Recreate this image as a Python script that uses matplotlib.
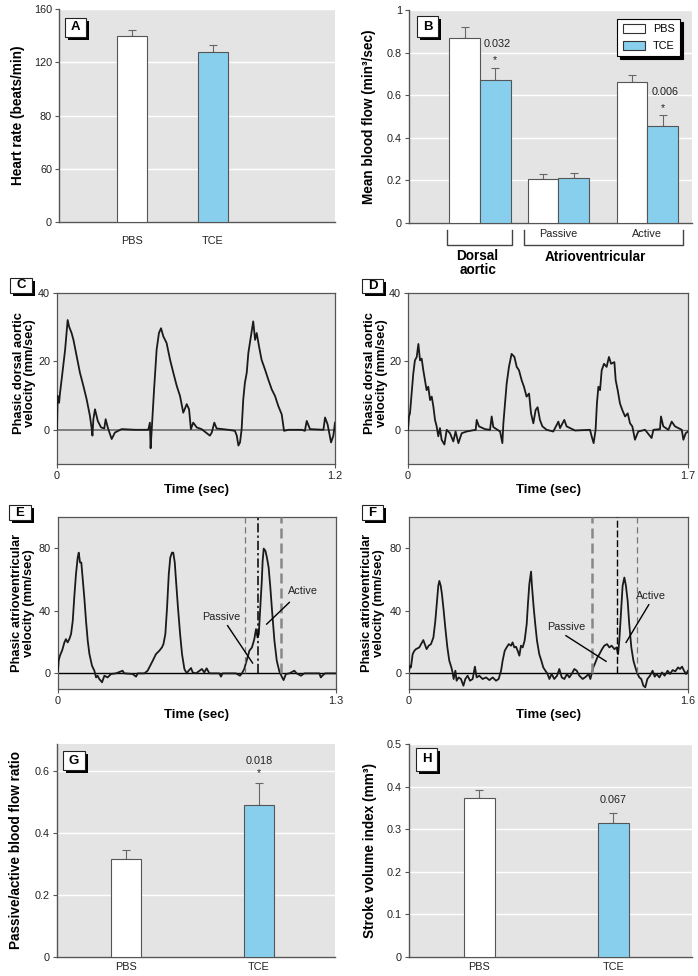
import matplotlib
matplotlib.use('Agg')
import matplotlib.pyplot as plt
import matplotlib.transforms as mtrans
from matplotlib.patches import Rectangle, Patch

plt.rcParams['font.family'] = ['Liberation Sans', 'DejaVu Sans']

# ---------------- data ----------------
groups = ['PBS', 'TCE']
hr_mean = [140, 128]
hr_err = [4, 5]
hr_ticks = [0, 40, 80, 120, 160]
hr_tick_labels = ['0', '60', '80', '120', '160']

flow_cats = ['Dorsal\naortic', 'Passive', 'Active']
flow_pbs = [0.867, 0.204, 0.660]
flow_pbs_err = [0.051, 0.024, 0.033]
flow_tce = [0.669, 0.209, 0.455]
flow_tce_err = [0.060, 0.023, 0.050]
flow_p = ['0.032', '', '0.006']
flow_ticks = [0, 0.2, 0.4, 0.6, 0.8, 1.0]
flow_tick_labels = ['0', '0.2', '0.4', '0.6', '0.8', '1']

ratio_mean = [0.314, 0.488]
ratio_err = [0.029, 0.071]
ratio_p = '0.018'
ratio_ticks = [0, 0.2, 0.4, 0.6]
ratio_tick_labels = ['0', '0.2', '0.4', '0.6']

sv_mean = [0.373, 0.314]
sv_err = [0.019, 0.025]
sv_p = '0.067'
sv_ticks = [0, 0.1, 0.2, 0.3, 0.4, 0.5]
sv_tick_labels = ['0', '0.1', '0.2', '0.3', '0.4', '0.5']

# Panel C: phasic dorsal aortic velocity, PBS (mm/sec)
c_t = [0.000, 0.003, 0.009, 0.013, 0.020, 0.035, 0.046, 0.052, 0.063, 0.071, 0.085, 0.099,
       0.114, 0.128, 0.142, 0.150, 0.153, 0.157, 0.164, 0.176, 0.190, 0.204, 0.210, 0.219,
       0.236, 0.250, 0.279, 0.337, 0.394, 0.401, 0.404, 0.409, 0.419, 0.430, 0.440, 0.449,
       0.459, 0.473, 0.488, 0.502, 0.517, 0.531, 0.545, 0.560, 0.570, 0.578, 0.588, 0.603,
       0.624, 0.660, 0.668, 0.679, 0.689, 0.740, 0.768, 0.776, 0.783, 0.790, 0.797, 0.804,
       0.811, 0.819, 0.826, 0.837, 0.847, 0.855, 0.862, 0.872, 0.883, 0.898, 0.912, 0.927,
       0.941, 0.955, 0.970, 0.980, 0.999, 1.056, 1.070, 1.078, 1.092, 1.150, 1.157, 1.168,
       1.183, 1.193, 1.200]
c_v = [0.2, 9.9, 7.9, 10.8, 14.7, 23.4, 32.1, 30.2, 28.3, 26.3, 21.5, 16.7,
       12.8, 8.9, 4.1, 0.2, -1.7, 3.1, 6.0, 2.6, 0.7, 0.4, 3.1, 0.7,
       -2.7, -0.8, 0.2, 0.0, 0.0, 2.1, -5.4, 0.2, 11.8, 23.4, 28.3, 29.7,
       27.3, 25.4, 20.5, 16.7, 12.8, 9.9, 5.0, 7.5, 6.0, 0.2, 2.1, 0.7,
       0.2, -1.7, -0.8, 2.1, 0.4, 0.0, -0.3, -1.7, -4.6, -3.7, 0.2, 8.9,
       13.7, 16.7, 22.5, 27.3, 31.7, 26.3, 28.3, 24.4, 20.5, 17.6, 14.7, 11.8,
       9.9, 7.0, 4.5, -0.3, 0.0, 0.0, -0.3, 2.6, 0.2, 0.0, 3.6, 1.6,
       -3.7, -1.7, 2.1]

# Panel D: phasic dorsal aortic velocity, TCE (mm/sec)
d_t = [0.000, 0.006, 0.012, 0.022, 0.032, 0.042, 0.053, 0.063, 0.073, 0.083, 0.093, 0.103,
       0.113, 0.123, 0.134, 0.144, 0.154, 0.164, 0.174, 0.184, 0.194, 0.204, 0.221, 0.235,
       0.255, 0.275, 0.289, 0.306, 0.326, 0.356, 0.387, 0.411, 0.417, 0.431, 0.467, 0.498,
       0.508, 0.518, 0.559, 0.573, 0.579, 0.589, 0.599, 0.613, 0.629, 0.646, 0.660, 0.674,
       0.690, 0.704, 0.720, 0.735, 0.747, 0.761, 0.775, 0.787, 0.801, 0.816, 0.842, 0.882,
       0.913, 0.923, 0.949, 0.963, 1.014, 1.105, 1.115, 1.127, 1.139, 1.147, 1.156, 1.166,
       1.176, 1.190, 1.206, 1.220, 1.233, 1.253, 1.261, 1.273, 1.287, 1.301, 1.318, 1.334,
       1.348, 1.362, 1.378, 1.398, 1.439, 1.479, 1.490, 1.530, 1.536, 1.550, 1.581, 1.601,
       1.621, 1.662, 1.672, 1.686, 1.700]
d_v = [0.0, 3.9, 4.8, 10.6, 16.4, 20.3, 21.3, 25.1, 20.3, 20.8, 17.4, 14.5,
       11.6, 12.6, 8.7, 9.7, 6.8, 2.9, 1.0, -1.9, 0.5, -2.9, -4.3, 0.0,
       -1.0, -3.4, -0.5, -3.9, -1.0, -0.5, -0.2, 0.0, 2.9, 1.0, 0.2, 0.0,
       3.9, 0.8, -0.5, -3.9, 1.9, 7.7, 13.5, 18.4, 22.2, 21.3, 18.4, 17.4,
       14.5, 12.6, 9.7, 10.6, 4.8, 1.9, 5.8, 6.6, 2.9, 1.0, 0.0, -0.5,
       2.4, 0.5, 2.9, 1.0, -0.2, 0.0, -1.9, -3.9, 0.0, 7.7, 12.6, 11.6,
       17.4, 19.3, 18.4, 21.3, 19.3, 19.8, 14.5, 11.6, 7.7, 5.8, 3.9, 4.8,
       1.9, 1.0, -2.9, -0.5, 0.0, -2.4, 0.0, 0.2, 3.9, 1.0, 0.0, 2.4,
       1.0, 0.0, -2.9, -1.0, -0.5]

# Panel E: phasic atrioventricular velocity, PBS (mm/sec)
e_t = [0.000, 0.003, 0.009, 0.019, 0.030, 0.037, 0.045, 0.053, 0.061, 0.069, 0.076, 0.084,
       0.092, 0.097, 0.103, 0.109, 0.115, 0.123, 0.131, 0.139, 0.147, 0.159, 0.170, 0.178,
       0.185, 0.193, 0.206, 0.217, 0.232, 0.248, 0.271, 0.302, 0.310, 0.349, 0.365, 0.373,
       0.404, 0.419, 0.427, 0.443, 0.458, 0.474, 0.486, 0.493, 0.502, 0.510, 0.518, 0.525,
       0.533, 0.539, 0.546, 0.552, 0.561, 0.571, 0.580, 0.591, 0.602, 0.611, 0.622, 0.630,
       0.645, 0.673, 0.684, 0.695, 0.708, 0.754, 0.762, 0.770, 0.832, 0.851, 0.860, 0.871,
       0.882, 0.895, 0.907, 0.918, 0.926, 0.933, 0.939, 0.945, 0.953, 0.957, 0.962, 0.970,
       0.977, 0.985, 0.993, 1.001, 1.012, 1.023, 1.035, 1.048, 1.055, 1.066, 1.082, 1.105,
       1.116, 1.136, 1.152, 1.222, 1.229, 1.236, 1.249, 1.300]
e_v = [1.7, 8.1, 11.3, 14.5, 19.8, 21.9, 19.8, 21.9, 25.1, 33.6, 48.5, 63.4,
       74.0, 77.2, 70.9, 70.9, 61.3, 48.5, 33.6, 20.9, 12.3, 4.9, 1.7, -2.6,
       -1.5, -3.6, -5.7, -1.5, -2.6, -0.4, 0.0, 1.7, 0.0, -0.4, -2.1, 0.0,
       0.0, 1.7, 3.8, 8.1, 12.3, 14.5, 16.6, 18.7, 25.1, 42.1, 63.4, 74.0,
       77.2, 77.2, 70.9, 59.1, 42.1, 25.1, 12.3, 2.8, 0.0, 1.7, 3.4, 0.6,
       0.0, 2.8, 0.6, 3.2, 0.0, 0.0, -2.1, 0.0, 0.0, -1.5, 0.0, 2.8,
       8.1, 14.5, 16.6, 21.9, 28.3, 23.0, 25.1, 40.0, 59.1, 71.9, 79.8, 78.3,
       74.0, 67.7, 54.9, 40.0, 20.9, 8.1, 1.3, -2.6, -4.3, -0.4, 0.0, 1.7,
       0.0, -1.5, 0.0, 0.0, -2.6, -1.5, 0.0, 0.0]
e_marks = [0.873, 0.937, 1.043]

# Panel F: phasic atrioventricular velocity, TCE (mm/sec)
f_t = [0.000, 0.006, 0.011, 0.021, 0.031, 0.040, 0.059, 0.075, 0.082, 0.094, 0.101, 0.113,
       0.126, 0.140, 0.151, 0.161, 0.168, 0.174, 0.182, 0.189, 0.199, 0.208, 0.220, 0.231,
       0.243, 0.250, 0.256, 0.266, 0.273, 0.285, 0.298, 0.312, 0.323, 0.336, 0.350, 0.365,
       0.378, 0.388, 0.403, 0.422, 0.442, 0.461, 0.480, 0.499, 0.514, 0.528, 0.537, 0.549,
       0.560, 0.572, 0.585, 0.594, 0.604, 0.614, 0.623, 0.633, 0.642, 0.652, 0.663, 0.675,
       0.682, 0.690, 0.700, 0.705, 0.715, 0.724, 0.734, 0.747, 0.759, 0.770, 0.782, 0.793,
       0.805, 0.818, 0.833, 0.849, 0.862, 0.876, 0.891, 0.906, 0.919, 0.933, 0.948, 0.962,
       0.977, 0.996, 1.015, 1.030, 1.040, 1.048, 1.057, 1.069, 1.080, 1.092, 1.107, 1.120,
       1.136, 1.149, 1.162, 1.178, 1.191, 1.199, 1.206, 1.216, 1.225, 1.235, 1.244, 1.254,
       1.263, 1.275, 1.287, 1.298, 1.309, 1.321, 1.332, 1.344, 1.355, 1.367, 1.382, 1.397,
       1.409, 1.420, 1.436, 1.451, 1.466, 1.483, 1.497, 1.512, 1.527, 1.543, 1.554, 1.566,
       1.577, 1.589, 1.600]
f_v = [1.7, 4.9, 3.8, 12.3, 14.5, 15.5, 16.6, 19.8, 21.3, 17.7, 15.5, 17.7,
       18.7, 23.0, 33.6, 46.4, 56.0, 59.1, 56.0, 50.6, 40.0, 29.4, 16.6, 8.1,
       3.8, 0.6, -3.6, 1.7, -4.7, -2.6, -3.6, -7.9, -3.6, -1.5, -4.7, -3.6,
       4.3, -2.6, -1.5, -3.6, -2.6, -4.3, -2.6, -4.7, -3.6, 1.7, 8.1, 14.5,
       16.6, 18.7, 17.7, 19.8, 16.6, 17.0, 14.5, 11.3, 17.7, 16.6, 20.9, 31.5,
       44.3, 57.0, 65.1, 56.0, 42.1, 31.5, 20.9, 12.3, 8.1, 3.8, 1.7, 0.0,
       -3.6, -0.4, -3.6, -1.5, 2.8, -2.6, -3.6, -0.4, -2.6, -0.4, 2.8, 1.7,
       -1.5, -3.6, -2.1, -0.4, -3.6, 0.0, 3.8, 7.0, 10.2, 12.3, 15.5, 17.7,
       18.7, 16.6, 17.7, 15.5, 16.6, 12.3, 20.9, 40.0, 56.0, 61.3, 56.0, 46.4,
       31.5, 16.6, 8.1, 3.8, 0.0, -2.6, -3.6, -7.9, -8.9, -3.6, -1.5, 1.7,
       -2.1, -0.4, -2.6, 0.6, -1.5, 1.7, -0.4, 2.1, 1.3, 3.8, 2.8, 4.3,
       1.7, -0.4, 1.7]
f_marks = [1.048, 1.195, 1.309]

# ---------------- style ----------------
W, H = 698, 976
BG = '#e4e4e4'
BLUE = '#88cfee'
EDGE = '#555555'
TXT = '#222222'
FS_SMALL = 7.8
FS_TICK = 7.8
FS_YLAB = 9.8
FS_YLAB2 = 9.3
FS_XLAB = 9.5

fig = plt.figure(figsize=(W / 100, H / 100), dpi=100)
fig.patch.set_facecolor('white')


def axes_px(x0, y0, x1, y1):
    return fig.add_axes([x0 / W, 1 - y1 / H, (x1 - x0) / W, (y1 - y0) / H])


def letter(txt, x0, y0, x1, y1):
    sh = 3
    fig.add_artist(Rectangle(((x0 + sh) / W, 1 - (y1 + sh) / H), (x1 - x0) / W, (y1 - y0) / H,
                             transform=fig.transFigure, facecolor='black', edgecolor='none', zorder=10))
    fig.add_artist(Rectangle((x0 / W, 1 - y1 / H), (x1 - x0) / W, (y1 - y0) / H,
                             transform=fig.transFigure, facecolor='white', edgecolor='#222222',
                             linewidth=0.8, zorder=11))
    fig.text((x0 + x1) / 2 / W, 1 - (y0 + y1) / 2 / H, txt, ha='center', va='center',
             fontsize=9.5, fontweight='bold', zorder=12)


def style_bar_ax(ax):
    ax.set_facecolor(BG)
    for s in ['top', 'right']:
        ax.spines[s].set_visible(False)
    for s in ['left', 'bottom']:
        ax.spines[s].set_color(EDGE)
        ax.spines[s].set_linewidth(1.0)
    ax.yaxis.grid(True, color='white', lw=1.0)
    ax.set_axisbelow(True)
    ax.tick_params(axis='x', length=0, labelsize=FS_SMALL, colors=TXT)
    ax.tick_params(axis='y', length=3, color=EDGE, labelsize=FS_TICK, labelcolor=TXT, pad=2)


def draw_bars(ax, pos, vals, errs, colors, width):
    ax.errorbar(pos, vals, yerr=[[0] * len(vals), errs], fmt='none', ecolor='#666666',
                elinewidth=0.8, capsize=3, capthick=0.8, zorder=2)
    ax.bar(pos, vals, width, color=colors, edgecolor=EDGE, linewidth=0.8, zorder=3)


def trace_ax(ax, t, v, xmax, xlabels, ylim, yticks, zcolor, zlw):
    ax.set_facecolor(BG)
    ax.axhline(0, color=zcolor, lw=zlw, zorder=2)
    ax.plot(t, v, color='#1a1a1a', lw=1.3, zorder=3)
    ax.set_xlim(0, xmax)
    ax.set_ylim(*ylim)
    ax.set_xticks([0, xmax])
    ax.set_xticklabels(xlabels)
    ax.set_yticks(yticks)
    for s in ax.spines.values():
        s.set_color(EDGE)
        s.set_linewidth(0.9)
    ax.tick_params(labelsize=FS_TICK, length=3, color=EDGE, pad=2, labelcolor=TXT)
    ax.set_xlabel('Time (sec)', fontsize=FS_XLAB, fontweight='bold', labelpad=2)


# ---------------- A ----------------
axA = axes_px(59, 9, 335, 222)
style_bar_ax(axA)
draw_bars(axA, [0, 1], hr_mean, hr_err, ['white', BLUE], 0.37)
axA.set_xlim(-0.90, 2.506)
axA.set_ylim(0, 160)
axA.set_yticks(hr_ticks)
axA.set_yticklabels(hr_tick_labels)
axA.set_xticks([0, 1])
axA.set_xticklabels(groups)
axA.tick_params(axis='x', pad=10)
axA.set_ylabel('Heart rate (beats/min)', fontsize=FS_YLAB, fontweight='bold')
axA.yaxis.set_label_coords(-0.123, 0.5)
letter('A', 65, 18, 86, 37)

# ---------------- B ----------------
axB = axes_px(409, 10, 692, 222.7)
style_bar_ax(axB)
gpos = [0, 1, 2.137]
bw = 0.39
draw_bars(axB, [p - bw / 2 for p in gpos], flow_pbs, flow_pbs_err, 'white', bw)
draw_bars(axB, [p + bw / 2 for p in gpos], flow_tce, flow_tce_err, BLUE, bw)
axB.set_xlim(-0.907, 2.708)
axB.set_ylim(0, 1)
axB.set_yticks(flow_ticks)
axB.set_yticklabels(flow_tick_labels)
axB.set_xticks([])
axB.set_ylabel('Mean blood flow (min³/sec)', fontsize=FS_YLAB, fontweight='bold')
axB.yaxis.set_label_coords(-0.118, 0.5)
for i, p in enumerate(flow_p):
    if p:
        top = flow_tce[i] + flow_tce_err[i]
        axB.text(gpos[i] + bw / 2 + 0.03, top + 0.11, p, ha='center', va='center',
                 fontsize=FS_SMALL, color=TXT)
        axB.text(gpos[i] + bw / 2, top + 0.035, '*', ha='center', va='center',
                 fontsize=FS_SMALL, color=TXT)
tr = mtrans.blended_transform_factory(axB.transData, axB.transAxes)
for x0, x1 in [(-0.42, 0.41), (0.562, 2.59)]:
    axB.plot([x0, x0, x1, x1], [-0.034, -0.105, -0.105, -0.034], transform=tr, clip_on=False,
             color='#444444', lw=1.0)
axB.text(gpos[1], -0.052, flow_cats[1], transform=tr, ha='center', va='center',
         fontsize=FS_SMALL, color=TXT)
axB.text(gpos[2], -0.052, flow_cats[2], transform=tr, ha='center', va='center',
         fontsize=FS_SMALL, color=TXT)
axB.text(-0.03, -0.19, flow_cats[0], transform=tr, ha='center', va='center', fontsize=9.8,
         fontweight='bold', linespacing=0.95)
axB.text(1.47, -0.16, 'Atrioventricular', transform=tr, ha='center', va='center', fontsize=9.8,
         fontweight='bold')
handles = [Patch(facecolor='white', edgecolor='#333333', lw=0.8, label=groups[0]),
           Patch(facecolor=BLUE, edgecolor='#333333', lw=0.8, label=groups[1])]
leg = axB.legend(handles=handles, loc='upper right', bbox_to_anchor=(0.958, 0.958), frameon=True,
                 fancybox=False, edgecolor='black', framealpha=1,
                 shadow={'facecolor': 'black', 'edgecolor': 'black', 'alpha': 1},
                 fontsize=FS_SMALL, handlelength=2.1, handleheight=0.85, borderpad=0.5,
                 labelspacing=0.6, handletextpad=0.7, borderaxespad=0)
leg.get_frame().set_linewidth(0.8)
letter('B', 417, 16, 438, 37)

# ---------------- C ----------------
axC = axes_px(57, 293, 335, 464)
trace_ax(axC, c_t, c_v, 1.2, ['0', '1.2'], (-10, 40), [0, 20, 40], '#777777', 1.3)
axC.set_ylabel('Phasic dorsal aortic\nvelocity (mm/sec)', fontsize=FS_YLAB2, fontweight='bold',
               linespacing=0.95)
axC.yaxis.set_label_coords(-0.074, 0.53)
letter('C', 10, 278, 32, 293)

# ---------------- D ----------------
axD = axes_px(408, 293, 688, 464)
trace_ax(axD, d_t, d_v, 1.7, ['0', '1.7'], (-10, 40), [0, 20, 40], '#666666', 0.9)
axD.set_ylabel('Phasic dorsal aortic\nvelocity (mm/sec)', fontsize=FS_YLAB2, fontweight='bold',
               linespacing=0.95)
axD.yaxis.set_label_coords(-0.073, 0.53)
letter('D', 362, 279, 383, 293)

# ---------------- E ----------------
axE = axes_px(58, 517, 336, 689)
trace_ax(axE, e_t, e_v, 1.3, ['0', '1.3'], (-10, 100), [0, 40, 80], 'black', 1.0)
axE.vlines(e_marks[0], 0, 100, colors='#777777', linestyles=(0, (5, 3)), lw=0.9, zorder=4)
axE.vlines(e_marks[1], 0, 100, colors='black', linestyles=(0, (6, 2, 1.5, 2)), lw=1.1, zorder=4)
axE.vlines(e_marks[2], 0, 100, colors='#888888', linestyles=(0, (4, 2)), lw=1.8, zorder=4)
axE.plot([0.793, 0.910], [30.5, 6.6], color='black', lw=1.0, zorder=5)
axE.text(0.765, 36.2, 'Passive', ha='center', va='center', fontsize=FS_SMALL, color=TXT)
axE.plot([1.082, 0.976], [45.4, 31.5], color='black', lw=1.0, zorder=5)
axE.text(1.147, 52.5, 'Active', ha='center', va='center', fontsize=FS_SMALL, color=TXT)
axE.set_ylabel('Phasic atrioventricular\nvelocity (mm/sec)', fontsize=FS_YLAB2,
               fontweight='bold', linespacing=0.95)
axE.yaxis.set_label_coords(-0.084, 0.5)
letter('E', 9, 505, 31, 520)

# ---------------- F ----------------
axF = axes_px(409, 517, 688, 689)
trace_ax(axF, f_t, f_v, 1.6, ['0', '1.6'], (-10, 100), [0, 40, 80], 'black', 1.0)
axF.vlines(f_marks[0], 0, 100, colors='#888888', linestyles=(0, (4, 2)), lw=1.8, zorder=4)
axF.vlines(f_marks[1], 0, 100, colors='black', linestyles=(0, (5, 2)), lw=1.0, zorder=4)
axF.vlines(f_marks[2], 0, 100, colors='#777777', linestyles=(0, (5, 3)), lw=0.9, zorder=4)
axF.plot([0.900, 1.130], [24.1, 7.7], color='black', lw=1.0, zorder=5)
axF.text(0.904, 29.5, 'Passive', ha='center', va='center', fontsize=FS_SMALL, color=TXT)
axF.plot([1.375, 1.245], [43.9, 19.8], color='black', lw=1.0, zorder=5)
axF.text(1.388, 49.7, 'Active', ha='center', va='center', fontsize=FS_SMALL, color=TXT)
axF.set_ylabel('Phasic atrioventricular\nvelocity (mm/sec)', fontsize=FS_YLAB2,
               fontweight='bold', linespacing=0.95)
axF.yaxis.set_label_coords(-0.086, 0.5)
letter('F', 362, 505, 383, 520)

# ---------------- G ----------------
axG = axes_px(57, 744, 335, 956.7)
style_bar_ax(axG)
draw_bars(axG, [0, 1], ratio_mean, ratio_err, ['white', BLUE], 0.226)
axG.set_xlim(-0.519, 1.571)
axG.set_ylim(0, 0.686)
axG.set_yticks(ratio_ticks)
axG.set_yticklabels(ratio_tick_labels)
axG.set_xticks([0, 1])
axG.set_xticklabels(groups)
axG.tick_params(axis='x', pad=4)
axG.text(1, 0.631, ratio_p, ha='center', va='center', fontsize=FS_SMALL, color=TXT)
axG.text(1, 0.592, '*', ha='center', va='center', fontsize=FS_SMALL, color=TXT)
axG.set_ylabel('Passive/active blood flow ratio', fontsize=FS_YLAB, fontweight='bold')
axG.yaxis.set_label_coords(-0.122, 0.5)
letter('G', 63, 751, 85, 770)

# ---------------- H ----------------
axH = axes_px(409, 744.3, 692, 956.7)
style_bar_ax(axH)
draw_bars(axH, [0, 1], sv_mean, sv_err, ['white', BLUE], 0.231)
axH.set_xlim(-0.526, 1.586)
axH.set_ylim(0, 0.5)
axH.set_yticks(sv_ticks)
axH.set_yticklabels(sv_tick_labels)
axH.set_xticks([0, 1])
axH.set_xticklabels(groups)
axH.tick_params(axis='x', pad=4)
axH.text(1, 0.369, sv_p, ha='center', va='center', fontsize=FS_SMALL, color=TXT)
axH.set_ylabel('Stroke volume index (mm³)', fontsize=FS_YLAB, fontweight='bold')
axH.yaxis.set_label_coords(-0.113, 0.5)
letter('H', 416, 748, 437, 771)

fig.savefig('out.png', dpi=100, facecolor='white')
